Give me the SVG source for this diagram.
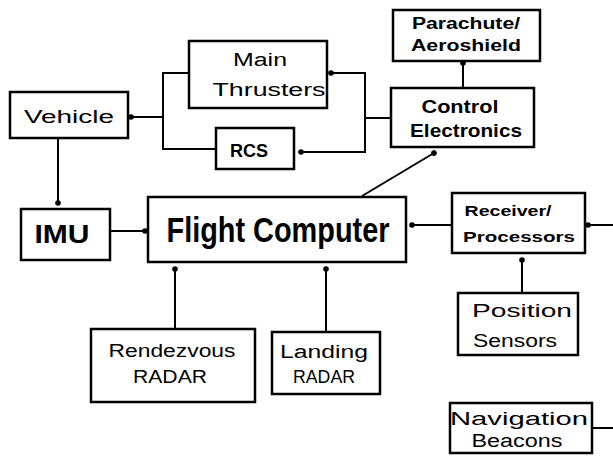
<svg xmlns="http://www.w3.org/2000/svg" width="613" height="464" viewBox="0 0 613 464">
<style>
.box{fill:#fff;stroke:#000;stroke-width:2.5}
.ln{fill:none;stroke:#000;stroke-width:2}
.m{font-family:"Liberation Sans",Arial,sans-serif;font-size:18px;fill:#000;text-anchor:middle}
.b{font-family:"Liberation Sans",Arial,sans-serif;font-weight:bold;fill:#000;text-anchor:middle}
</style>
<defs>
<marker id="dot" viewBox="0 0 6 6" refX="3" refY="3" markerWidth="6" markerHeight="6" markerUnits="userSpaceOnUse" orient="auto">
<circle cx="3" cy="3" r="2.8" fill="#000"/>
</marker>
</defs>
<rect width="613" height="464" fill="#fff"/>
<g id="connectors">
<line class="ln" x1="58" y1="138" x2="58" y2="203" marker-end="url(#dot)"/>
<line class="ln" x1="110" y1="231" x2="145" y2="231" marker-end="url(#dot)"/>
<line class="ln" x1="175" y1="329" x2="175" y2="269" marker-end="url(#dot)"/>
<line class="ln" x1="326" y1="332" x2="326" y2="269" marker-end="url(#dot)"/>
<line class="ln" x1="362" y1="196" x2="434" y2="153" marker-end="url(#dot)"/>
<line class="ln" x1="452" y1="225" x2="412" y2="225" marker-end="url(#dot)"/>
<line class="ln" x1="522" y1="293" x2="522" y2="260" marker-end="url(#dot)"/>
<path class="ln" d="M592,428 H620 V225 H588" marker-end="url(#dot)"/>
<line class="ln" x1="463" y1="88" x2="463" y2="63" marker-end="url(#dot)"/>
<path class="ln" d="M391,118 H365 V73 H331" marker-end="url(#dot)"/>
<path class="ln" d="M365,118 V152 H301" marker-end="url(#dot)"/>
<path class="ln" d="M189,73 H163 V149 H216"/>
<path class="ln" d="M163,117 H131" marker-end="url(#dot)"/>
</g>
<g id="vehicle">
<rect class="box" x="10" y="92" width="118" height="46"/>
<text class="m" x="69" y="123" textLength="90" lengthAdjust="spacingAndGlyphs">Vehicle</text>
</g>
<g id="main-thrusters">
<rect class="box" x="189" y="41" width="138" height="67"/>
<text class="m" x="260" y="66" textLength="54" lengthAdjust="spacingAndGlyphs">Main</text>
<text class="m" x="269" y="96" textLength="113" lengthAdjust="spacingAndGlyphs">Thrusters</text>
</g>
<g id="rcs">
<rect class="box" x="216" y="128" width="78" height="41"/>
<text class="b" x="249" y="157" font-size="19" textLength="38" lengthAdjust="spacingAndGlyphs">RCS</text>
</g>
<g id="parachute">
<rect class="box" x="393" y="10" width="147" height="51"/>
<text class="b" x="466" y="29" font-size="16" textLength="108" lengthAdjust="spacingAndGlyphs">Parachute/</text>
<text class="b" x="466" y="51" font-size="16" textLength="110" lengthAdjust="spacingAndGlyphs">Aeroshield</text>
</g>
<g id="control-electronics">
<rect class="box" x="391" y="88" width="143" height="59"/>
<text class="b" x="460" y="113" font-size="19" textLength="77" lengthAdjust="spacingAndGlyphs">Control</text>
<text class="b" x="466" y="137" font-size="19" textLength="112" lengthAdjust="spacingAndGlyphs">Electronics</text>
</g>
<g id="imu">
<rect class="box" x="21" y="209" width="89" height="51"/>
<text class="b" x="62" y="243" font-size="25" textLength="55" lengthAdjust="spacingAndGlyphs">IMU</text>
</g>
<g id="flight-computer">
<rect class="box" x="148" y="197" width="258" height="65"/>
<text class="b" x="278" y="242" font-size="35" textLength="223" lengthAdjust="spacingAndGlyphs">Flight Computer</text>
</g>
<g id="receiver">
<rect class="box" x="452" y="193" width="133" height="60"/>
<text class="b" x="508" y="216" font-size="15" textLength="87" lengthAdjust="spacingAndGlyphs">Receiver/</text>
<text class="b" x="519" y="242" font-size="15" textLength="112" lengthAdjust="spacingAndGlyphs">Processors</text>
</g>
<g id="position-sensors">
<rect class="box" x="458" y="293" width="120" height="62"/>
<text class="m" x="522" y="317" textLength="100" lengthAdjust="spacingAndGlyphs">Position</text>
<text class="m" x="515" y="347" textLength="84" lengthAdjust="spacingAndGlyphs">Sensors</text>
</g>
<g id="navigation-beacons">
<rect class="box" x="450" y="403" width="142" height="50"/>
<text class="m" x="519" y="425" textLength="138" lengthAdjust="spacingAndGlyphs">Navigation</text>
<text class="m" x="517" y="447" textLength="91" lengthAdjust="spacingAndGlyphs">Beacons</text>
</g>
<g id="rendezvous-radar">
<rect class="box" x="91" y="329" width="164" height="73"/>
<text class="m" x="172" y="357" textLength="127" lengthAdjust="spacingAndGlyphs">Rendezvous</text>
<text class="m" x="170" y="383" textLength="74" lengthAdjust="spacingAndGlyphs">RADAR</text>
</g>
<g id="landing-radar">
<rect class="box" x="272" y="332" width="108" height="62"/>
<text class="m" x="324" y="358" textLength="88" lengthAdjust="spacingAndGlyphs">Landing</text>
<text class="m" x="324" y="383" textLength="62" lengthAdjust="spacingAndGlyphs">RADAR</text>
</g>
</svg>
